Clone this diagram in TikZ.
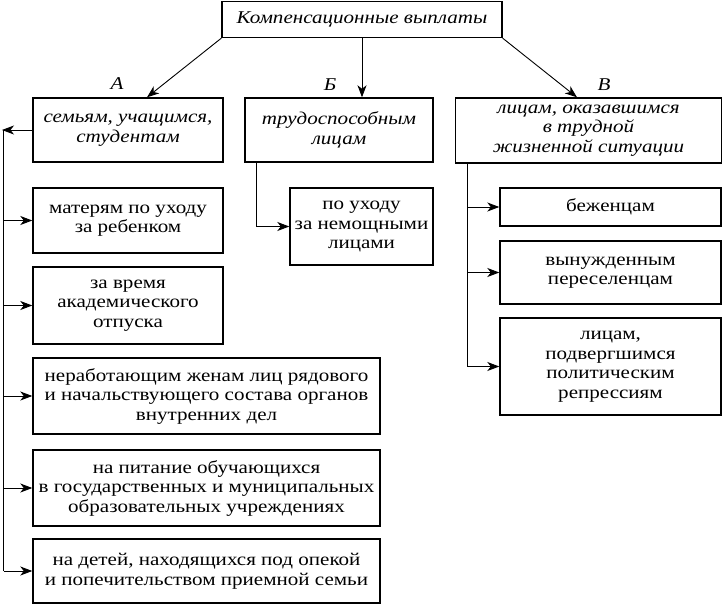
\documentclass[tikz,border=0pt]{standalone}
\usepackage{fontspec}
\setmainfont{Liberation Serif}[FakeStretch=1.17]
\usetikzlibrary{arrows.meta}
\tikzset{
  box/.style={draw, line width=1.4pt, align=center, inner sep=0pt, font=\fontsize{18}{19.5}\selectfont},
  ibox/.style={box, font=\fontsize{18}{19.5}\selectfont\itshape},
  lbl/.style={font=\fontsize{18}{19.5}\selectfont\itshape, inner sep=0pt},
  arr/.style={line width=0.9pt, -{Stealth[length=12pt,width=9pt,inset=3.5pt]}},
  ln/.style={line width=0.9pt}
}
\begin{document}
\begin{tikzpicture}[x=1pt,y=-1pt]
\useasboundingbox (0,0) rectangle (723,605);
\fill[white] (0,0) rectangle (723,605);
% top
\node[ibox, minimum width=280pt, minimum height=36pt] (top) at (362,19.5) {Компенсационные выплаты};
% level 1
\node[ibox, minimum width=190pt, minimum height=64pt] (A) at (128,130) {семьям, учащимся,\\студентам};
\node[ibox, minimum width=188pt, minimum height=64pt] (B) at (339,130) {трудоспособным\\лицам};
\node[ibox, minimum width=266pt, minimum height=65pt] (V) at (588.5,130.5) {лицам, оказавшимся\\в трудной\\жизненной ситуации};
% labels
\node[lbl] (la) at (117,84) {А};
\node[lbl] (lb) at (330,85) {Б};
\node[lbl] (lv) at (604,85) {В};
% A children
\node[box, minimum width=190pt, minimum height=65pt] (A1) at (128,220.5) {матерям по уходу\\за ребенком};
\node[box, minimum width=190pt, minimum height=77pt] (A2) at (128,305.5) {за время\\академического\\отпуска};
\node[box, minimum width=347pt, minimum height=76pt] (A3) at (206.5,396) {неработающим женам лиц рядового\\и начальствующего состава органов\\внутренних дел};
\node[box, minimum width=347pt, minimum height=76pt] (A4) at (206.5,488) {на питание обучающихся\\в государственных и муниципальных\\образовательных учреждениях};
\node[box, minimum width=347pt, minimum height=64pt] (A5) at (206.5,571) {на детей, находящихся под опекой\\и попечительством приемной семьи};
% B child
\node[box, minimum width=143pt, minimum height=77pt] (B1) at (361.5,226.5) {по уходу\\за немощными\\лицами};
% V children
\node[box, minimum width=221pt, minimum height=38pt] (V1) at (610.5,207) {беженцам};
\node[box, minimum width=221pt, minimum height=63pt] (V2) at (610.5,272.5) {вынужденным\\переселенцам};
\node[box, minimum width=221pt, minimum height=97pt] (V3) at (610.5,366.5) {лицам,\\подвергшимся\\политическим\\репрессиям};
% top connectors
\draw[arr] (top.south west) -- ([xshift=19pt]A.north);
\draw[arr] (top.south) -- (top.south |- B.north);
\draw[arr] (top.south east) -- ([xshift=-11.5pt]V.north);
% A spine
\coordinate (sp) at (2,130);
\coordinate (spb) at (3.5,571);
\draw[arr] (A.west) -- (sp);
\draw[ln] (3.5,130) -- (spb);
\foreach \n in {A1,A2,A3,A4,A5} {\draw[arr] (spb |- \n.west) -- (\n.west);}
% B branch
\coordinate (bs) at ([xshift=-83pt]B.south);
\draw[arr] (bs) |- (B1.west);
% V spine
\coordinate (vs) at ([xshift=-121.5pt]V.south);
\draw[ln] (vs) -- (vs |- V3.west);
\foreach \n in {V1,V2,V3} {\draw[arr] (vs |- \n.west) -- (\n.west);}
\end{tikzpicture}
\end{document}
